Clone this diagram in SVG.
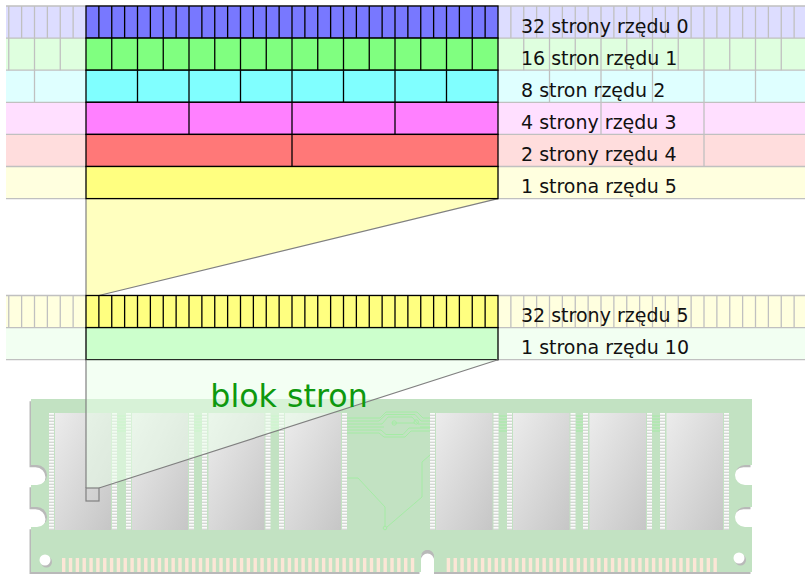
<svg xmlns="http://www.w3.org/2000/svg" width="805" height="574" viewBox="0 0 805 574">
  <style>
    .cell { stroke: #000; stroke-width: 1.3; }
    .div { fill: none; stroke: #000; stroke-width: 1.3; }
    .faint { fill: none; stroke: #c0c0c0; stroke-width: 1.3; }
    .label { font-family: "DejaVu Sans", "Noto Sans", sans-serif; font-size: 19px; fill: #111; }
    .link { fill: none; stroke: #808080; stroke-width: 1.2; }
    .trace { fill: none; stroke: #a2eca2; stroke-width: 0.9; }
    .pins { fill: url(#pinPat); }
    .chip { fill: url(#chipGrad); }
    .contact { fill: #fce6d6; }
  </style>
  <defs>
    <linearGradient id="chipGrad" x1="0" y1="0" x2="1" y2="1">
      <stop offset="0" stop-color="#ececec"/>
      <stop offset="1" stop-color="#c6c6c6"/>
    </linearGradient>
    <pattern id="pinPat" patternUnits="userSpaceOnUse" x="0" y="413" width="6" height="3">
      <rect width="6" height="3" fill="#d4d8d4"/>
      <rect width="6" height="1.6" fill="#fbfbfb"/>
    </pattern>
    <path id="boardShape" d="M31,399 H752 V465 H745 A10,10 0 0 0 745,485 H752 V507 H745 A10,10 0 0 0 745,527 H752 V572 H434 V556.5 A6.5,6.5 0 0 0 421,556.5 V572 H31 V527 H37 A10,10 0 0 0 37,507 H31 V485 H37 A10,10 0 0 0 37,465 H31 Z"/>
  </defs>

  <!-- pale continuation of each row across the full width -->
  <g id="background-rows">
    <rect x="6" y="6" width="799" height="32.1" fill="#ddddff"/>
    <rect x="6" y="38.1" width="799" height="32.1" fill="#dfffdf"/>
    <rect x="6" y="70.2" width="799" height="32.1" fill="#dfffff"/>
    <rect x="6" y="102.3" width="799" height="32.1" fill="#ffdfff"/>
    <rect x="6" y="134.4" width="799" height="32.1" fill="#ffdddd"/>
    <rect x="6" y="166.5" width="799" height="32.1" fill="#ffffdf"/>
    <rect x="6" y="295.5" width="799" height="32.1" fill="#ffffdf"/>
    <rect x="6" y="327.6" width="799" height="32.1" fill="#f2fff2"/>
    <path class="faint" d="M6,6 H805 M6,38.1 H805 M6,70.2 H805 M6,102.3 H805 M6,134.4 H805 M6,166.5 H805 M6,198.6 H805 M6,295.5 H805 M6,327.6 H805 M6,359.7 H805"/>
    <!-- order 0 -->
    <path class="faint" d="M8.75,6 V38.1 M21.625,6 V38.1 M34.5,6 V38.1 M47.375,6 V38.1 M60.25,6 V38.1 M73.125,6 V38.1 M510.875,6 V38.1 M523.75,6 V38.1 M536.625,6 V38.1 M549.5,6 V38.1 M562.375,6 V38.1 M575.25,6 V38.1 M588.125,6 V38.1 M601,6 V38.1 M613.875,6 V38.1 M626.75,6 V38.1 M639.625,6 V38.1 M652.5,6 V38.1 M665.375,6 V38.1 M678.25,6 V38.1 M691.125,6 V38.1 M704,6 V38.1 M716.875,6 V38.1 M729.75,6 V38.1 M742.625,6 V38.1 M755.5,6 V38.1 M768.375,6 V38.1 M781.25,6 V38.1 M794.125,6 V38.1"/>
    <!-- order 1 -->
    <path class="faint" d="M8.75,38.1 V70.2 M34.5,38.1 V70.2 M60.25,38.1 V70.2 M523.75,38.1 V70.2 M549.5,38.1 V70.2 M575.25,38.1 V70.2 M601,38.1 V70.2 M626.75,38.1 V70.2 M652.5,38.1 V70.2 M678.25,38.1 V70.2 M704,38.1 V70.2 M729.75,38.1 V70.2 M755.5,38.1 V70.2 M781.25,38.1 V70.2"/>
    <!-- order 2 -->
    <path class="faint" d="M34.5,70.2 V102.3 M549.5,70.2 V102.3 M601,70.2 V102.3 M652.5,70.2 V102.3 M704,70.2 V102.3 M755.5,70.2 V102.3"/>
    <!-- order 3 -->
    <path class="faint" d="M601,102.3 V134.4 M704,102.3 V134.4"/>
    <!-- order 4 -->
    <path class="faint" d="M704,134.4 V166.5"/>
    <!-- 32 pages of order 5 -->
    <path class="faint" d="M8.75,295.5 V327.6 M21.625,295.5 V327.6 M34.5,295.5 V327.6 M47.375,295.5 V327.6 M60.25,295.5 V327.6 M73.125,295.5 V327.6 M510.875,295.5 V327.6 M523.75,295.5 V327.6 M536.625,295.5 V327.6 M549.5,295.5 V327.6 M562.375,295.5 V327.6 M575.25,295.5 V327.6 M588.125,295.5 V327.6 M601,295.5 V327.6 M613.875,295.5 V327.6 M626.75,295.5 V327.6 M639.625,295.5 V327.6 M652.5,295.5 V327.6 M665.375,295.5 V327.6 M678.25,295.5 V327.6 M691.125,295.5 V327.6 M704,295.5 V327.6 M716.875,295.5 V327.6 M729.75,295.5 V327.6 M742.625,295.5 V327.6 M755.5,295.5 V327.6 M768.375,295.5 V327.6 M781.25,295.5 V327.6 M794.125,295.5 V327.6"/>
  </g>

  <!-- expansion of one order-5 page into 32 smaller pages -->
  <g id="zoom-upper">
    <polygon points="86,198.6 498,198.6 98.875,295.5 86,295.5" fill="#ffffbf"/>
    <path class="link" d="M86,198.6 V295.5 M498,198.6 L98.875,295.5"/>
  </g>

  <g id="row-order0">
    <rect class="cell" x="86" y="6" width="412" height="32.1" fill="#7878ff"/>
    <path class="div" d="M98.875,6 V38.1 M111.75,6 V38.1 M124.625,6 V38.1 M137.5,6 V38.1 M150.375,6 V38.1 M163.25,6 V38.1 M176.125,6 V38.1 M189,6 V38.1 M201.875,6 V38.1 M214.75,6 V38.1 M227.625,6 V38.1 M240.5,6 V38.1 M253.375,6 V38.1 M266.25,6 V38.1 M279.125,6 V38.1 M292,6 V38.1 M304.875,6 V38.1 M317.75,6 V38.1 M330.625,6 V38.1 M343.5,6 V38.1 M356.375,6 V38.1 M369.25,6 V38.1 M382.125,6 V38.1 M395,6 V38.1 M407.875,6 V38.1 M420.75,6 V38.1 M433.625,6 V38.1 M446.5,6 V38.1 M459.375,6 V38.1 M472.25,6 V38.1 M485.125,6 V38.1"/>
    <text class="label" x="521" y="32.5">32 strony rzędu 0</text>
  </g>
  <g id="row-order1">
    <rect class="cell" x="86" y="38.1" width="412" height="32.1" fill="#80ff80"/>
    <path class="div" d="M111.75,38.1 V70.2 M137.5,38.1 V70.2 M163.25,38.1 V70.2 M189,38.1 V70.2 M214.75,38.1 V70.2 M240.5,38.1 V70.2 M266.25,38.1 V70.2 M292,38.1 V70.2 M317.75,38.1 V70.2 M343.5,38.1 V70.2 M369.25,38.1 V70.2 M395,38.1 V70.2 M420.75,38.1 V70.2 M446.5,38.1 V70.2 M472.25,38.1 V70.2"/>
    <text class="label" x="521" y="64.6">16 stron rzędu 1</text>
  </g>
  <g id="row-order2">
    <rect class="cell" x="86" y="70.2" width="412" height="32.1" fill="#80ffff"/>
    <path class="div" d="M137.5,70.2 V102.3 M189,70.2 V102.3 M240.5,70.2 V102.3 M292,70.2 V102.3 M343.5,70.2 V102.3 M395,70.2 V102.3 M446.5,70.2 V102.3"/>
    <text class="label" x="521" y="96.7">8 stron rzędu 2</text>
  </g>
  <g id="row-order3">
    <rect class="cell" x="86" y="102.3" width="412" height="32.1" fill="#ff80ff"/>
    <path class="div" d="M189,102.3 V134.4 M292,102.3 V134.4 M395,102.3 V134.4"/>
    <text class="label" x="521" y="128.8">4 strony rzędu 3</text>
  </g>
  <g id="row-order4">
    <rect class="cell" x="86" y="134.4" width="412" height="32.1" fill="#ff7878"/>
    <path class="div" d="M292,134.4 V166.5"/>
    <text class="label" x="521" y="160.9">2 strony rzędu 4</text>
  </g>
  <g id="row-order5">
    <rect class="cell" x="86" y="166.5" width="412" height="32.1" fill="#ffff80"/>
    <text class="label" x="521" y="193">1 strona rzędu 5</text>
  </g>

  <g id="row-32-order5">
    <rect class="cell" x="86" y="295.5" width="412" height="32.1" fill="#ffff80"/>
    <path class="div" d="M98.875,295.5 V327.6 M111.75,295.5 V327.6 M124.625,295.5 V327.6 M137.5,295.5 V327.6 M150.375,295.5 V327.6 M163.25,295.5 V327.6 M176.125,295.5 V327.6 M189,295.5 V327.6 M201.875,295.5 V327.6 M214.75,295.5 V327.6 M227.625,295.5 V327.6 M240.5,295.5 V327.6 M253.375,295.5 V327.6 M266.25,295.5 V327.6 M279.125,295.5 V327.6 M292,295.5 V327.6 M304.875,295.5 V327.6 M317.75,295.5 V327.6 M330.625,295.5 V327.6 M343.5,295.5 V327.6 M356.375,295.5 V327.6 M369.25,295.5 V327.6 M382.125,295.5 V327.6 M395,295.5 V327.6 M407.875,295.5 V327.6 M420.75,295.5 V327.6 M433.625,295.5 V327.6 M446.5,295.5 V327.6 M459.375,295.5 V327.6 M472.25,295.5 V327.6 M485.125,295.5 V327.6"/>
    <text class="label" x="521" y="322">32 strony rzędu 5</text>
  </g>
  <g id="row-order10">
    <rect class="cell" x="86" y="327.6" width="412" height="32.1" fill="#ccffcc"/>
    <text class="label" x="521" y="354.1">1 strona rzędu 10</text>
  </g>

  <!-- memory module -->
  <g id="memory-module">
    <use href="#boardShape" transform="translate(-1.5,2.2)" fill="#b9b9b9"/>
    <use href="#boardShape" fill="#c2e2c2"/>
    <circle cx="46.5" cy="562" r="5.5" fill="#b9b9b9"/>
    <circle cx="45" cy="560" r="5.5" fill="#fff"/>
    <circle cx="740.5" cy="560" r="5.5" fill="#b9b9b9"/>
    <circle cx="739" cy="558" r="5.5" fill="#fff"/>
    <path d="M421,574 V558.5 A6.5,6.5 0 0 1 434,558.5 V574 Z" fill="#fff"/>
    <path d="M421,556.5 A6.5,6.5 0 0 1 434,556.5 V560 A6.5,6.5 0 0 0 421,560 Z" fill="#b9b9b9"/>

    <!-- signal traces -->
    <path class="trace" d="M117,416 H126 M117,419 H126 M117,422 H126 M117,425 H126 M117,428 H126 M117,431 H126
      M194,416 H202 M194,419 H202 M194,422 H202 M194,425 H202 M194,428 H202 M194,431 H202
      M271,416 H279 M271,419 H279 M271,422 H279 M271,425 H279 M271,428 H279 M271,431 H279
      M499,416 H507 M499,419 H507 M499,422 H507 M499,425 H507 M499,428 H507 M499,431 H507
      M576,416 H583 M576,419 H583 M576,422 H583 M576,425 H583 M576,428 H583 M576,431 H583
      M652,416 H660 M652,419 H660 M652,422 H660 M652,425 H660 M652,428 H660 M652,431 H660"/>
    <path class="trace" d="M347,418 H380 L386,412 H417 L423,418 H430
      M347,421 H379 L386,414.5 H415 L421,421 H430
      M347,424 H382 L388,417 H412 L418,424 H430
      M347,427 H384 M392,423 H414 M420,427 H430
      M347,430 H381 L386,434.5 H403 L409,428 H430
      M347,433 H379 L384,437 H405 L411,431 H430
      M392,423 A2.2,2.2 0 1 0 396.4,423 A2.2,2.2 0 1 0 392,423
      M414,422 A2.2,2.2 0 1 0 418.4,422 A2.2,2.2 0 1 0 414,422
      M347,478 H358 L385,507 V526
      M430,455 L422,462 V497 L387,527
      M383.2,528 A1.8,1.8 0 1 0 386.8,528 A1.8,1.8 0 1 0 383.2,528"/>

    <!-- chips with pin rows -->
    <g id="chips">
      <rect class="pins" x="49" y="413" width="5" height="117"/>
      <rect class="chip" x="55" y="413" width="56" height="117"/>
      <rect class="pins" x="112" y="413" width="5" height="117"/>

      <rect class="pins" x="126" y="413" width="5" height="117"/>
      <rect class="chip" x="132" y="413" width="56" height="117"/>
      <rect class="pins" x="189" y="413" width="5" height="117"/>

      <rect class="pins" x="202" y="413" width="5" height="117"/>
      <rect class="chip" x="208.5" y="413" width="56" height="117"/>
      <rect class="pins" x="265.5" y="413" width="5" height="117"/>

      <rect class="pins" x="279" y="413" width="5" height="117"/>
      <rect class="chip" x="285" y="413" width="56" height="117"/>
      <rect class="pins" x="342" y="413" width="5" height="117"/>

      <rect class="pins" x="430" y="413" width="5" height="117"/>
      <rect class="chip" x="436" y="413" width="56.5" height="117"/>
      <rect class="pins" x="493.5" y="413" width="5" height="117"/>

      <rect class="pins" x="507" y="413" width="5" height="117"/>
      <rect class="chip" x="513" y="413" width="56.5" height="117"/>
      <rect class="pins" x="570.5" y="413" width="5" height="117"/>

      <rect class="pins" x="583" y="413" width="5" height="117"/>
      <rect class="chip" x="589.5" y="413" width="56.5" height="117"/>
      <rect class="pins" x="647" y="413" width="5" height="117"/>

      <rect class="pins" x="660" y="413" width="5" height="117"/>
      <rect class="chip" x="666.5" y="413" width="56.5" height="117"/>
      <rect class="pins" x="724" y="413" width="5" height="117"/>
    </g>

    <!-- edge contacts: 52 on the left of the key, 40 on the right -->
    <g id="contacts">
      <rect class="contact" x="62" y="558" width="3.4" height="14"/>
      <rect class="contact" x="68.84" y="558" width="3.4" height="14"/>
      <rect class="contact" x="75.68" y="558" width="3.4" height="14"/>
      <rect class="contact" x="82.52" y="558" width="3.4" height="14"/>
      <rect class="contact" x="89.36" y="558" width="3.4" height="14"/>
      <rect class="contact" x="96.2" y="558" width="3.4" height="14"/>
      <rect class="contact" x="103.04" y="558" width="3.4" height="14"/>
      <rect class="contact" x="109.88" y="558" width="3.4" height="14"/>
      <rect class="contact" x="116.72" y="558" width="3.4" height="14"/>
      <rect class="contact" x="123.56" y="558" width="3.4" height="14"/>
      <rect class="contact" x="130.4" y="558" width="3.4" height="14"/>
      <rect class="contact" x="137.24" y="558" width="3.4" height="14"/>
      <rect class="contact" x="144.08" y="558" width="3.4" height="14"/>
      <rect class="contact" x="150.92" y="558" width="3.4" height="14"/>
      <rect class="contact" x="157.76" y="558" width="3.4" height="14"/>
      <rect class="contact" x="164.6" y="558" width="3.4" height="14"/>
      <rect class="contact" x="171.44" y="558" width="3.4" height="14"/>
      <rect class="contact" x="178.28" y="558" width="3.4" height="14"/>
      <rect class="contact" x="185.12" y="558" width="3.4" height="14"/>
      <rect class="contact" x="191.96" y="558" width="3.4" height="14"/>
      <rect class="contact" x="198.8" y="558" width="3.4" height="14"/>
      <rect class="contact" x="205.64" y="558" width="3.4" height="14"/>
      <rect class="contact" x="212.48" y="558" width="3.4" height="14"/>
      <rect class="contact" x="219.32" y="558" width="3.4" height="14"/>
      <rect class="contact" x="226.16" y="558" width="3.4" height="14"/>
      <rect class="contact" x="233" y="558" width="3.4" height="14"/>
      <rect class="contact" x="239.84" y="558" width="3.4" height="14"/>
      <rect class="contact" x="246.68" y="558" width="3.4" height="14"/>
      <rect class="contact" x="253.52" y="558" width="3.4" height="14"/>
      <rect class="contact" x="260.36" y="558" width="3.4" height="14"/>
      <rect class="contact" x="267.2" y="558" width="3.4" height="14"/>
      <rect class="contact" x="274.04" y="558" width="3.4" height="14"/>
      <rect class="contact" x="280.88" y="558" width="3.4" height="14"/>
      <rect class="contact" x="287.72" y="558" width="3.4" height="14"/>
      <rect class="contact" x="294.56" y="558" width="3.4" height="14"/>
      <rect class="contact" x="301.4" y="558" width="3.4" height="14"/>
      <rect class="contact" x="308.24" y="558" width="3.4" height="14"/>
      <rect class="contact" x="315.08" y="558" width="3.4" height="14"/>
      <rect class="contact" x="321.92" y="558" width="3.4" height="14"/>
      <rect class="contact" x="328.76" y="558" width="3.4" height="14"/>
      <rect class="contact" x="335.6" y="558" width="3.4" height="14"/>
      <rect class="contact" x="342.44" y="558" width="3.4" height="14"/>
      <rect class="contact" x="349.28" y="558" width="3.4" height="14"/>
      <rect class="contact" x="356.12" y="558" width="3.4" height="14"/>
      <rect class="contact" x="362.96" y="558" width="3.4" height="14"/>
      <rect class="contact" x="369.8" y="558" width="3.4" height="14"/>
      <rect class="contact" x="376.64" y="558" width="3.4" height="14"/>
      <rect class="contact" x="383.48" y="558" width="3.4" height="14"/>
      <rect class="contact" x="390.32" y="558" width="3.4" height="14"/>
      <rect class="contact" x="397.16" y="558" width="3.4" height="14"/>
      <rect class="contact" x="404" y="558" width="3.4" height="14"/>
      <rect class="contact" x="410.84" y="558" width="3.4" height="14"/>

      <rect class="contact" x="446.7" y="558" width="3.4" height="14"/>
      <rect class="contact" x="453.54" y="558" width="3.4" height="14"/>
      <rect class="contact" x="460.38" y="558" width="3.4" height="14"/>
      <rect class="contact" x="467.22" y="558" width="3.4" height="14"/>
      <rect class="contact" x="474.06" y="558" width="3.4" height="14"/>
      <rect class="contact" x="480.9" y="558" width="3.4" height="14"/>
      <rect class="contact" x="487.74" y="558" width="3.4" height="14"/>
      <rect class="contact" x="494.58" y="558" width="3.4" height="14"/>
      <rect class="contact" x="501.42" y="558" width="3.4" height="14"/>
      <rect class="contact" x="508.26" y="558" width="3.4" height="14"/>
      <rect class="contact" x="515.1" y="558" width="3.4" height="14"/>
      <rect class="contact" x="521.94" y="558" width="3.4" height="14"/>
      <rect class="contact" x="528.78" y="558" width="3.4" height="14"/>
      <rect class="contact" x="535.62" y="558" width="3.4" height="14"/>
      <rect class="contact" x="542.46" y="558" width="3.4" height="14"/>
      <rect class="contact" x="549.3" y="558" width="3.4" height="14"/>
      <rect class="contact" x="556.14" y="558" width="3.4" height="14"/>
      <rect class="contact" x="562.98" y="558" width="3.4" height="14"/>
      <rect class="contact" x="569.82" y="558" width="3.4" height="14"/>
      <rect class="contact" x="576.66" y="558" width="3.4" height="14"/>
      <rect class="contact" x="583.5" y="558" width="3.4" height="14"/>
      <rect class="contact" x="590.34" y="558" width="3.4" height="14"/>
      <rect class="contact" x="597.18" y="558" width="3.4" height="14"/>
      <rect class="contact" x="604.02" y="558" width="3.4" height="14"/>
      <rect class="contact" x="610.86" y="558" width="3.4" height="14"/>
      <rect class="contact" x="617.7" y="558" width="3.4" height="14"/>
      <rect class="contact" x="624.54" y="558" width="3.4" height="14"/>
      <rect class="contact" x="631.38" y="558" width="3.4" height="14"/>
      <rect class="contact" x="638.22" y="558" width="3.4" height="14"/>
      <rect class="contact" x="645.06" y="558" width="3.4" height="14"/>
      <rect class="contact" x="651.9" y="558" width="3.4" height="14"/>
      <rect class="contact" x="658.74" y="558" width="3.4" height="14"/>
      <rect class="contact" x="665.58" y="558" width="3.4" height="14"/>
      <rect class="contact" x="672.42" y="558" width="3.4" height="14"/>
      <rect class="contact" x="679.26" y="558" width="3.4" height="14"/>
      <rect class="contact" x="686.1" y="558" width="3.4" height="14"/>
      <rect class="contact" x="692.94" y="558" width="3.4" height="14"/>
      <rect class="contact" x="699.78" y="558" width="3.4" height="14"/>
      <rect class="contact" x="706.62" y="558" width="3.4" height="14"/>
      <rect class="contact" x="713.46" y="558" width="3.4" height="14"/>
    </g>
  </g>

  <!-- the order-10 block located on the module -->
  <g id="zoom-lower">
    <polygon points="86,359.7 498,359.7 99,488 86,488" fill="#eaffea" opacity="0.55"/>
    <path class="link" d="M86,359.7 V488 M498,359.7 L99,488"/>
    <rect class="link" x="86" y="488" width="13" height="13"/>
  </g>

  <g id="page-block-label">
    <text x="289" y="407" font-family="'DejaVu Sans', 'Noto Sans', sans-serif" font-size="31.7" fill="#0e990e" text-anchor="middle">blok stron</text>
  </g>
</svg>
